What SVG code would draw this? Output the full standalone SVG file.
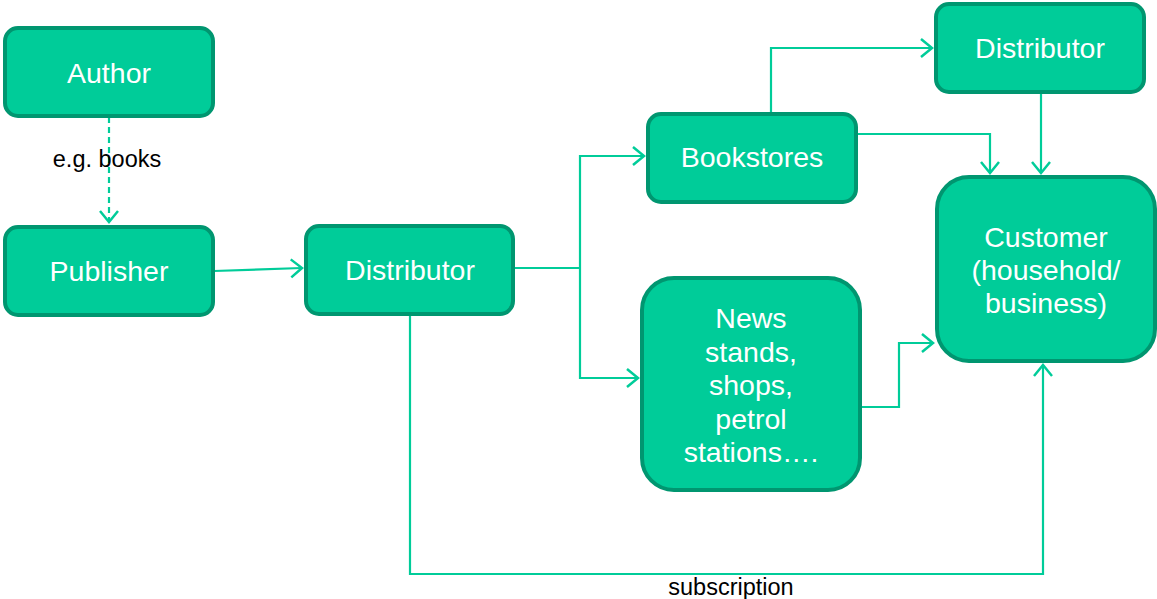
<svg xmlns="http://www.w3.org/2000/svg" width="1157" height="599" viewBox="0 0 1157 599">
<defs>
<marker id="arr" markerUnits="userSpaceOnUse" markerWidth="16" markerHeight="22" viewBox="0 0 16 22" refX="13" refY="11" orient="auto">
<path d="M2,2 L13,11 L2,20" fill="none" stroke="#00CC99" stroke-width="2.5"/>
</marker>
</defs>
<style>
.box{fill:#00CC99;stroke:#009670;stroke-width:4}
.lbl{font-family:"Liberation Sans",Arial,sans-serif;font-size:28.5px;fill:#FFFFFF;text-anchor:middle}
.edge{fill:none;stroke:#00CC99;stroke-width:2.2}
.etxt{font-family:"Liberation Sans",Arial,sans-serif;font-size:23.5px;fill:#000000;text-anchor:middle}
</style>
<g id="connectors">
<line class="edge" x1="109" y1="117" x2="109" y2="222" stroke-dasharray="6,4" marker-end="url(#arr)"/>
<line class="edge" x1="214" y1="271" x2="302" y2="268" marker-end="url(#arr)"/>
<line class="edge" x1="514" y1="268" x2="580" y2="268" stroke-width="3.5"/>
<polyline class="edge" points="580,268 580,156 644,156" marker-end="url(#arr)"/>
<polyline class="edge" points="580,268 580,378 638,378" marker-end="url(#arr)"/>
<polyline class="edge" points="771,113 771,48 932,48" marker-end="url(#arr)"/>
<polyline class="edge" points="857,134 990,134 990,173" marker-end="url(#arr)"/>
<line class="edge" x1="1041" y1="93" x2="1041" y2="173" marker-end="url(#arr)"/>
<polyline class="edge" points="861,407 899,407 899,343 933,343" marker-end="url(#arr)"/>
<polyline class="edge" points="410,314 410,574 1043,574 1043,365" marker-end="url(#arr)"/>
<text class="etxt" x="107" y="167">e.g. books</text>
<text class="etxt" x="731" y="595">subscription</text>
</g>
<g id="author">
<rect class="box" x="5" y="28" width="208" height="88" rx="13"/>
<text class="lbl" x="109" y="83">Author</text>
</g>
<g id="publisher">
<rect class="box" x="5" y="227" width="208" height="88" rx="13"/>
<text class="lbl" x="109" y="281">Publisher</text>
</g>
<g id="distributor-mid">
<rect class="box" x="306" y="226" width="207" height="88" rx="13"/>
<text class="lbl" x="410" y="280">Distributor</text>
</g>
<g id="bookstores">
<rect class="box" x="648" y="114" width="208" height="88" rx="13"/>
<text class="lbl" x="752" y="167">Bookstores</text>
</g>
<g id="news">
<rect class="box" x="642" y="278" width="218" height="212" rx="32"/>
<text class="lbl" x="751" y="328">News</text>
<text class="lbl" x="751" y="361.5">stands,</text>
<text class="lbl" x="751" y="395">shops,</text>
<text class="lbl" x="751" y="428.5">petrol</text>
<text class="lbl" x="751" y="462">stations….</text>
</g>
<g id="distributor-top">
<rect class="box" x="936" y="4" width="208" height="88" rx="13"/>
<text class="lbl" x="1040" y="58">Distributor</text>
</g>
<g id="customer">
<rect class="box" x="937" y="177" width="218" height="184" rx="32"/>
<text class="lbl" x="1046" y="247">Customer</text>
<text class="lbl" x="1046" y="280">(household/</text>
<text class="lbl" x="1046" y="313">business)</text>
</g>
</svg>
